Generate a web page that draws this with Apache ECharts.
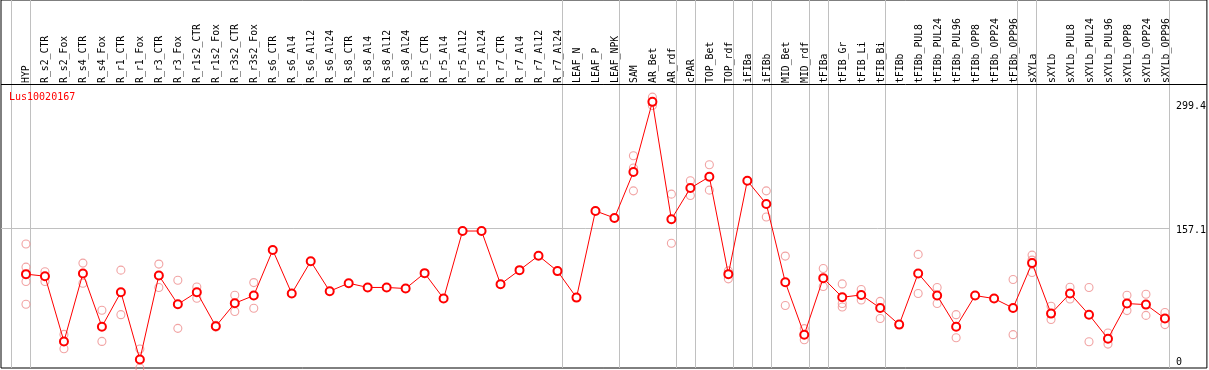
<!DOCTYPE html>
<html>
<head>
<meta charset="utf-8">
<script src="https://cdn.jsdelivr.net/npm/echarts@6/dist/echarts.min.js"></script>
<style>
html,body{margin:0;padding:0;background:#fff;}
#chart{width:1209px;height:370px;}
</style>
</head>
<body>
<div id="chart"></div>
<script>
const geneName = 'Lus10020167';
const categories = ['HYP','R_s2_CTR','R_s2_Fox','R_s4_CTR','R_s4_Fox','R_r1_CTR','R_r1_Fox','R_r3_CTR','R_r3_Fox','R_r1s2_CTR','R_r1s2_Fox','R_r3s2_CTR','R_r3s2_Fox','R_s6_CTR','R_s6_Al4','R_s6_Al12','R_s6_Al24','R_s8_CTR','R_s8_Al4','R_s8_Al12','R_s8_Al24','R_r5_CTR','R_r5_Al4','R_r5_Al12','R_r5_Al24','R_r7_CTR','R_r7_Al4','R_r7_Al12','R_r7_Al24','LEAF_N','LEAF_P','LEAF_NPK','SAM','AR_Bet','AR_rdf','cPAR','TOP_Bet','TOP_rdf','iFIBa','iFIBb','MID_Bet','MID_rdf','tFIBa','tFIB_Gr','tFIB_Li','tFIB_Bi','tFIBb','tFIBb_PUL8','tFIBb_PUL24','tFIBb_PUL96','tFIBb_OPP8','tFIBb_OPP24','tFIBb_OPP96','sXYLa','sXYLb','sXYLb_PUL8','sXYLb_PUL24','sXYLb_PUL96','sXYLb_OPP8','sXYLb_OPP24','sXYLb_OPP96'];
const meanValues = [105.6,103.3,29.9,106.4,46.5,85.3,9.6,104.1,71.7,85.3,46.9,72.8,81.5,132.7,83.8,120.0,86.4,95.4,90.6,90.6,89.4,106.7,78.1,154.1,154.1,94.3,110.1,126.3,109.0,79.2,176.7,168.8,220.4,299.4,167.3,202.4,215.1,105.6,210.6,184.6,96.5,37.5,101.1,79.6,82.2,67.5,48.8,106.4,81.5,46.5,81.5,78.1,67.5,118.0,61.2,83.8,60.0,33.0,72.5,71.3,55.7];
const replicateValues = [
  [139.5,113.5,97.3,71.7],[108.2,97.3],[37.8,21.7],[118.0,95.4],[64.9,29.9],[110.1,60.0],[21.3,0],[116.9,90.6],[98.8,44.6],[91.2,78.5],
  [48,46],[81.9,63.5],[96.1,67.3],[],[],[],[],[],[],[],
  [],[],[],[],[],[],[],[],[],[],
  [],[],[238.8,225,199.3],[304.7,295.3],[195.6,140.3],[210.6,194.1],[228.7,200.1],[109.3,100.3],[],[199.3,169.9],
  [125.9,70.3],[44.3,31.8],[112.0,91.7],[94.6,72.5,68.7],[88.3,76.5],[74.9,55.7],[],[127.8,83.8],[90.6,72.5],[60.0,34.1],
  [],[],[99.6,37.5],[127.0,121.4,107.5],[69.5,54.5],[90.9,77.7],[90.6,29.6],[39.3,26.9],[81.9,64.6],[83.0,59.2],
  [62.4,48.8]
];
const yTickLabels = [0, 157.1, 299.4];
const groupEndIndices = [-1,0,28,31,34,35,37,38,39,41,42,45,52,53,60];

const FONT = 'DejaVu Sans Mono';
const xMin = -25/19, xMax = xMin + 1207/19;
const headerValue = 318.7;
const sepOffset = 4.5/19;

const lineData = meanValues.map((v,i)=>[i,v]);
const repData = [];
replicateValues.forEach((arr,i)=>arr.forEach(v=>repData.push([i,v])));

const sepLines = groupEndIndices.map(i=>({xAxis: i + sepOffset, lineStyle:{color:'#c0c0c0',width:1,type:'solid'}}));
sepLines.push([{coord:[xMin,157.1]},{coord:[60 + sepOffset,157.1]}]);
sepLines.push({yAxis: headerValue, lineStyle:{color:'#000',width:1,type:'solid'}});

const richBase = {fontFamily:FONT,fontSize:10,color:'#000',width:30,align:'left'};

const chart = echarts.init(document.getElementById('chart'), null, {renderer:'canvas'});
chart.setOption({
  animation:false,
  backgroundColor:'#fff',
  title:{text:geneName,left:9,top:92,padding:0,textStyle:{color:'#ff0000',fontFamily:FONT,fontSize:10,fontWeight:'normal'}},
  grid:[
    {left:1,top:0,width:1207,height:368,show:true,borderColor:'#000',borderWidth:1,backgroundColor:'transparent'},
    {left:16.5,top:85,width:1159,height:1,show:false}
  ],
  xAxis:[
    {type:'value',gridIndex:0,min:xMin,max:xMax,axisLine:{show:false},axisTick:{show:false},axisLabel:{show:false},splitLine:{show:false}},
    {type:'category',gridIndex:1,position:'top',data:categories,boundaryGap:true,axisLine:{show:false},axisTick:{show:false},splitLine:{show:false},
     axisLabel:{interval:0,rotate:90,margin:2,fontFamily:FONT,fontSize:9.8,color:'#000'}}
  ],
  yAxis:[
    {type:'value',gridIndex:0,min:0,max:414,position:'right',axisLine:{show:false},axisTick:{show:false},splitLine:{show:false},
     axisLabel:{inside:true,margin:1,align:'right',customValues:yTickLabels,fontFamily:FONT,fontSize:10,color:'#000',
       formatter:function(v){ if(v===0) return '{z|0}'; if(v>200) return '{a|'+v+'}'; return '{b|'+v+'}'; },
       rich:{
         z:Object.assign({},richBase,{padding:[0,0,12,0]}),
         a:Object.assign({},richBase,{padding:[10,0,0,0]}),
         b:Object.assign({},richBase,{padding:[5,0,0,0]})
       }}},
    {type:'value',gridIndex:1,show:false}
  ],
  series:[
    {type:'scatter',xAxisIndex:0,yAxisIndex:0,data:repData,symbol:'circle',symbolSize:8,z:2,silent:true,
     itemStyle:{color:'transparent',borderColor:'#ee8c8c',borderWidth:1.1}},
    {type:'line',xAxisIndex:0,yAxisIndex:0,data:lineData,symbol:'emptyCircle',symbolSize:8,z:3,silent:true,
     lineStyle:{color:'#ff0000',width:1},itemStyle:{color:'#ff0000',borderColor:'#ff0000',borderWidth:1.3},
     markLine:{silent:true,symbol:'none',label:{show:false},animation:false,emphasis:{disabled:true},
       lineStyle:{color:'#c0c0c0',width:1,type:'solid'},data:sepLines,z:1}}
  ]
});
</script>
</body>
</html>
